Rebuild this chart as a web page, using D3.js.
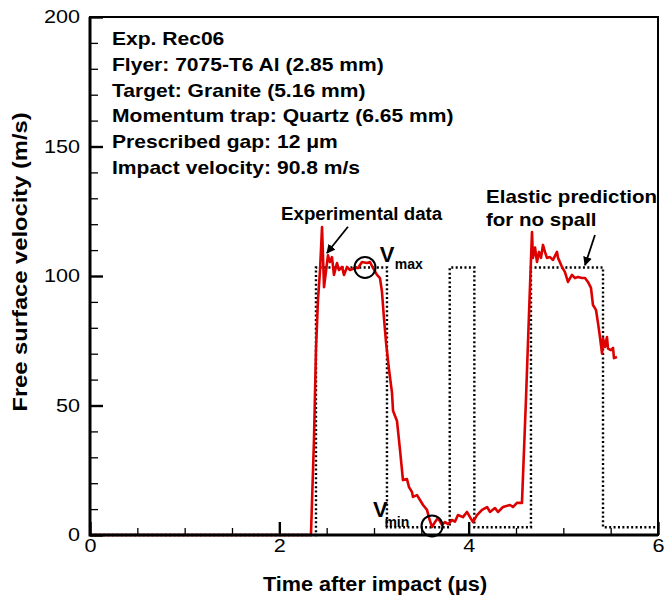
<!DOCTYPE html>
<html>
<head>
<meta charset="utf-8">
<script src="https://cdn.jsdelivr.net/npm/d3@7"></script>
<style>
  body { margin: 0; background: #fff; }
  svg { font-family: Arial, "Liberation Sans", sans-serif; }
</style>
</head>
<body>
<div id="chart"></div>
<script>
// measured free surface velocity (red trace), time in us, velocity in m/s
const expTime = [0, 2.334, 2.366, 2.387, 2.408, 2.43, 2.451, 2.472, 2.514, 2.535, 2.556, 2.577, 2.609, 2.63,
  2.662, 2.683, 2.715, 2.746, 2.799, 2.831, 2.873, 2.926, 2.958, 2.989, 3.032, 3.063, 3.084, 3.106, 3.127,
  3.158, 3.19, 3.201, 3.243, 3.275, 3.306, 3.348, 3.37, 3.401, 3.412, 3.454, 3.486, 3.518, 3.56, 3.581,
  3.613, 3.644, 3.676, 3.718, 3.75, 3.782, 3.824, 3.856, 3.887, 3.94, 3.982, 4.014, 4.046, 4.088, 4.141,
  4.194, 4.225, 4.278, 4.31, 4.363, 4.437, 4.468, 4.51, 4.563, 4.605, 4.637, 4.669, 4.679, 4.701, 4.722,
  4.743, 4.764, 4.785, 4.806, 4.827, 4.859, 4.891, 4.933, 4.944, 4.986, 5.017, 5.049, 5.091, 5.123, 5.155,
  5.197, 5.229, 5.26, 5.292, 5.313, 5.345, 5.366, 5.387, 5.409, 5.419, 5.44, 5.461, 5.472, 5.503, 5.525,
  5.535, 5.567];
const expVel = [0, 0, 36.7, 71.4, 90.7, 102.3, 118.9, 95.7, 108, 105.4, 107.3, 100.4, 105, 102.3,
  103.5, 100.4, 103.5, 102.3, 103.1, 103.1, 105.4, 105, 105.4, 103.1, 100.4, 99.2, 94, 83.4, 74.5,
  64, 55, 48, 44, 32.8, 21.2, 21.6, 18.5, 16.6, 14.7, 15.4, 13.5, 11.6, 9.7, 6.6,
  3.1, 5, 6.6, 3.9, 5, 4.2, 5.8, 5.2, 7.7, 6.9, 8.9, 6.9, 5, 7.7, 9.7,
  10.8, 8.9, 10.4, 8.9, 10.8, 11.6, 10.8, 12.4, 12.4, 52, 85, 117, 107, 111, 105.4,
  109.3, 107, 112, 109.3, 107, 107.3, 106.2, 109.3, 107, 103.5, 101.5, 97.7, 100.4, 99.2, 99.6,
  99.2, 99.2, 97.7, 95.4, 88.8, 86.9, 81.9, 76.4, 70, 76, 72.6, 76.4, 72, 71.4, 72.2,
  68.3, 68.7];

// elastic prediction for no spall (dotted)
const elasticTime = [0, 2.387, 2.387, 3.137, 3.137, 3.80, 3.80, 4.06, 4.06, 4.658, 4.658, 5.419, 5.419, 5.97];
const elasticVel = [0, 0, 103.3, 103.3, 3, 3, 103.3, 103.3, 3, 3, 103.3, 103.3, 3, 3];

const xTicks = [0, 2, 4, 6];
const yTicks = [0, 50, 100, 150, 200];

const infoLines = ["Exp. Rec06", "Flyer: 7075-T6 Al (2.85 mm)", "Target: Granite (5.16 mm)",
  "Momentum trap: Quartz (6.65 mm)", "Prescribed gap: 12 \u03bcm", "Impact velocity: 90.8 m/s"];

// circled points on the trace
const markers = [
  {sub: "max", t: 2.905, v: 103.3, lt: 3.06, lv: 105.5, st: 3.22, sv: 102.8},
  {sub: "min", t: 3.613, v: 3.5, lt: 2.99, lv: 6.9, st: 3.11, sv: 3.1}
];

// arrows: from label to the curve
const arrows = [
  {t0: 2.725, v0: 119, t1: 2.503, v1: 108.9},
  {t0: 5.334, v0: 115.8, t1: 5.229, v1: 104.2}
];

const margin = {top: 17, right: 6, bottom: 63, left: 90};
const width = 664 - margin.left - margin.right;
const height = 598 - margin.top - margin.bottom;

const svg = d3.select("#chart").append("svg")
    .attr("width", 664)
    .attr("height", 598);

svg.append("defs").append("marker")
    .attr("id", "head")
    .attr("viewBox", "0 0 10 10")
    .attr("refX", 9).attr("refY", 5)
    .attr("markerWidth", 5).attr("markerHeight", 5)
    .attr("orient", "auto")
  .append("path")
    .attr("d", "M0,0 L10,5 L0,10 z")
    .attr("fill", "#000");

const g = svg.append("g")
    .attr("transform", `translate(${margin.left},${margin.top})`);

const x = d3.scaleLinear().domain([0, 6]).range([0, width]);
const y = d3.scaleLinear().domain([0, 200]).range([height, 0]);

// text helper, sx stretches glyphs horizontally
function label(sel, str, px, py, size, sx, weight, anchor) {
    return sel.append("text")
        .attr("transform", `translate(${px},${py}) scale(${sx},1)`)
        .attr("font-size", size)
        .attr("font-weight", weight || "bold")
        .attr("text-anchor", anchor || "start")
        .attr("fill", "#000")
        .text(str);
}

// elastic prediction (dotted)
const elastic = elasticTime.map((t, i) => [t, elasticVel[i]]);
g.append("path")
    .datum(elastic)
    .attr("fill", "none")
    .attr("stroke", "#000")
    .attr("stroke-width", 2.4)
    .attr("stroke-dasharray", "2,2.4")
    .attr("d", d3.line().x(d => x(d[0])).y(d => y(d[1])));

// experimental data (red)
const exp = expTime.map((t, i) => [t, expVel[i]]);
g.append("path")
    .datum(exp)
    .attr("fill", "none")
    .attr("stroke", "#dd0000")
    .attr("stroke-width", 2.6)
    .attr("stroke-linejoin", "round")
    .attr("d", d3.line().x(d => x(d[0])).y(d => y(d[1])));

// minor ticks
const xMinor = x.ticks(12).filter(d => d % 2 !== 0);
const yMinor = y.ticks(20).filter(d => d % 50 !== 0);

g.append("g")
    .attr("transform", `translate(0,${height})`)
    .call(d3.axisBottom(x).tickValues(xMinor).tickSize(-7).tickSizeOuter(0).tickFormat(""))
    .call(a => a.select(".domain").remove())
    .selectAll("line").attr("stroke-width", 1.3);

g.append("g")
    .call(d3.axisLeft(y).tickValues(yMinor).tickSize(-8).tickSizeOuter(0).tickFormat(""))
    .call(a => a.select(".domain").remove())
    .selectAll("line").attr("stroke-width", 1.3);

const xAxis = g.append("g")
    .attr("transform", `translate(0,${height})`)
    .call(d3.axisBottom(x).tickValues(xTicks).tickSize(-13).tickSizeOuter(0).tickPadding(4)
        .tickFormat(d3.format("d")))
    .call(a => a.select(".domain").remove());
xAxis.selectAll("line").attr("stroke-width", 2.4);
xAxis.selectAll("text")
    .attr("font-size", 18)
    .attr("font-family", "Arial, 'Liberation Sans', sans-serif")
    .attr("transform", "scale(1.2,1)");

const yAxis = g.append("g")
    .call(d3.axisLeft(y).tickValues(yTicks).tickSize(-13).tickSizeOuter(0).tickPadding(8.3)
        .tickFormat(d3.format("d")))
    .call(a => a.select(".domain").remove());
yAxis.selectAll("line").attr("stroke-width", 2.4);
yAxis.selectAll("text")
    .attr("font-size", 18)
    .attr("font-family", "Arial, 'Liberation Sans', sans-serif")
    .attr("transform", "scale(1.2,1)");

// frame, drawn over the traces so the zero line stays black
g.append("rect")
    .attr("width", width).attr("height", height)
    .attr("fill", "none").attr("stroke", "#000").attr("stroke-width", 2);
g.append("path")
    .attr("d", `M0,0 V${height} H${width}`)
    .attr("fill", "none").attr("stroke", "#000").attr("stroke-width", 3);

// circles + V labels
markers.forEach(m => {
    g.append("circle")
        .attr("cx", x(m.t)).attr("cy", y(m.v)).attr("r", 10.5)
        .attr("fill", "none").attr("stroke", "#000").attr("stroke-width", 2);
    label(g, "V", x(m.lt), y(m.lv), 22, 1.0);
    label(g, m.sub, x(m.st), y(m.sv), 14, 1.0);
});

// arrows
arrows.forEach(a => {
    g.append("line")
        .attr("x1", x(a.t0)).attr("y1", y(a.v0))
        .attr("x2", x(a.t1)).attr("y2", y(a.v1))
        .attr("stroke", "#000").attr("stroke-width", 1.8)
        .attr("marker-end", "url(#head)");
});

// annotations
infoLines.forEach((s, i) => label(svg, s, 112, 45 + i * 25.8, 18, 1.17));
label(svg, "Experimental data", 281, 220, 18, 1.04);
label(svg, "Elastic prediction", 486, 203, 18, 1.14);
label(svg, "for no spall", 486, 226, 18, 1.14);

// axis titles
label(svg, "Time after impact (\u03bcs)", 375, 591, 21, 1.03, "bold", "middle");
svg.append("text")
    .attr("transform", "translate(27,262) rotate(-90) scale(1.13,1)")
    .attr("font-size", 21)
    .attr("font-weight", "bold")
    .attr("text-anchor", "middle")
    .text("Free surface velocity (m/s)");
</script>
</body>
</html>
